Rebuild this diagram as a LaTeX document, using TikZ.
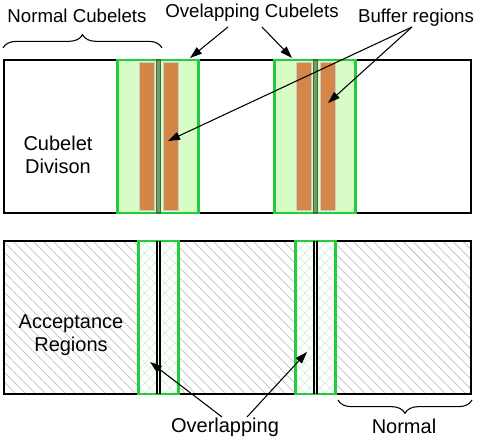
\documentclass[tikz,border=0pt]{standalone}
\usepackage{fontspec}
\setmainfont{Liberation Sans}
\usetikzlibrary{patterns.meta,decorations.pathreplacing,arrows.meta}
\definecolor{cubeGreen}{RGB}{34,204,60}
\definecolor{lightGreen}{RGB}{216,252,198}
\definecolor{darkGreen}{RGB}{62,112,48}
\definecolor{bufferOrange}{RGB}{212,134,72}

\begin{document}
\begin{tikzpicture}[x=0.75pt, y=-0.75pt,
    toplbl/.style={font=\fontsize{14}{16}\selectfont, anchor=base, inner sep=0pt},
    botlbl/.style={font=\fontsize{15}{17}\selectfont, anchor=base, inner sep=0pt},
    inlbl/.style={font=\fontsize{15}{17.3}\selectfont, align=center, inner sep=0pt},
    ptr/.style={line width=0.8pt, -{Triangle[length=9pt,width=6pt]}},
    cube/.style={draw=cubeGreen, line width=1.6pt},
    buffer/.style={fill=bufferOrange, draw=gray!40, line width=0.6pt},
    brc/.style={decorate, decoration={brace, amplitude=10pt}, line width=0.8pt}]
    \useasboundingbox (0,0) rectangle (479,448);

    % cubelet division
    \draw[fill=white, line width=1.5pt] (4,60) rectangle (471,213);
    \foreach \m in {158.5,315.5} {
        \filldraw[cube, fill=lightGreen] (\m-41,60) rectangle (\m+40,213);
        \filldraw[buffer] (\m-19,62) rectangle (\m-4,210);
        \filldraw[buffer] (\m+5,62) rectangle (\m+20,210);
        \filldraw[fill=darkGreen!70, draw=darkGreen, line width=0.8pt] (\m-2,60) rectangle (\m+2,213);
    }
    \node[inlbl] (division) at (58,154.5) {Cubelet\\Divison};

    % acceptance regions
    \fill[white] (4,241) rectangle (471,394);
    \fill[pattern={Lines[angle=-45,distance=5.3pt,line width=0.4pt]}, pattern color=gray!60]
        (4,241) rectangle (471,394);
    \draw[line width=1.5pt] (4,241) rectangle (471,394);
    \foreach \m in {158.5,315.5} {
        \fill[white] (\m-20,241) rectangle (\m+20,394);
        \fill[pattern={Hatch[angle=45,distance=5.3pt,line width=0.4pt]}, pattern color=cubeGreen!25]
            (\m-20,241) rectangle (\m+20,394);
        \draw[cube] (\m-20,241) rectangle (\m+20,394);
        \draw[line width=1.4pt] (\m-1.7,241) -- (\m-1.7,394);
        \draw[line width=1.4pt] (\m+1.7,241) -- (\m+1.7,394);
    }
    \node[inlbl] (accept) at (71,335.5) {Acceptance\\Regions};

    % labels
    \node[toplbl] (normtop) at (77,23) {Normal Cubelets};
    \node[toplbl] (ovtop) at (252,18) {Ovelapping Cubelets};
    \node[toplbl] (buftop) at (416,23) {Buffer regions};
    \node[botlbl] (ovbot) at (225,433) {Overlapping};
    \node[botlbl] (normbot) at (404,434) {Normal};

    % braces
    \draw[brc] (3,48) -- (162,48);
    \draw[brc] (472,400) -- (338,400);

    % pointers
    \coordinate (ovTailL) at (228,27);
    \coordinate (ovTailR) at (262,27);
    \coordinate (ovTipL) at (190,58);
    \coordinate (ovTipR) at (292,58);
    \coordinate (bufTail) at (412,27);
    \coordinate (bufTipL) at (168,141);
    \coordinate (bufTipR) at (328,103);
    \coordinate (botTailL) at (222,417);
    \coordinate (botTailR) at (247,417);
    \coordinate (botTipL) at (150,362);
    \coordinate (botTipR) at (307,352);
    \draw[ptr] (ovTailL) -- (ovTipL);
    \draw[ptr] (ovTailR) -- (ovTipR);
    \draw[ptr] (bufTail) -- (bufTipL);
    \draw[ptr] (bufTail) -- (bufTipR);
    \draw[ptr] (botTailL) -- (botTipL);
    \draw[ptr] (botTailR) -- (botTipR);
\end{tikzpicture}
\end{document}
